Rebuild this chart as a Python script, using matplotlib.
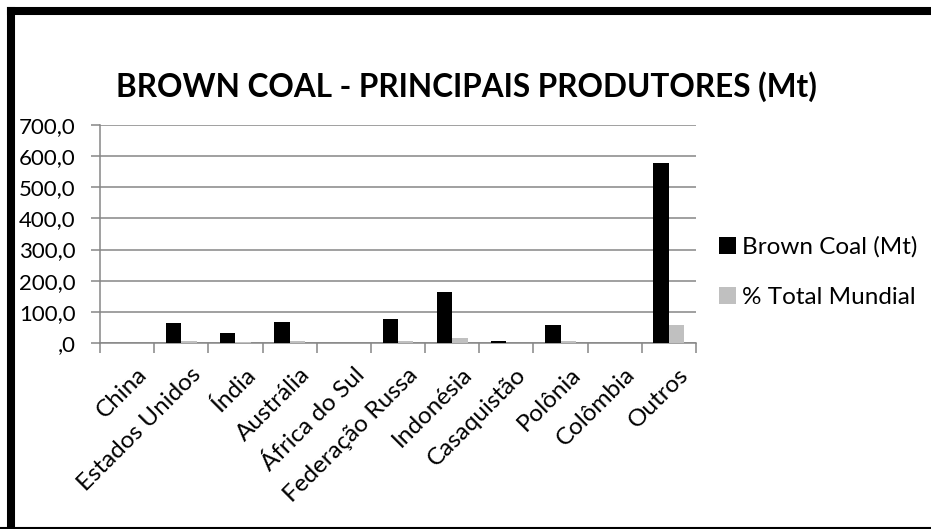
import matplotlib
matplotlib.use('Agg')
import matplotlib.pyplot as plt
import numpy as np
from matplotlib.lines import Line2D

# ── Data ──────────────────────────────────────────────────────────────────────
categories = ['China', 'Estados Unidos', 'Índia', 'Austrália', 'África do Sul',
              'Federação Russa', 'Indonésia', 'Casaquistão', 'Polônia',
              'Colômbia', 'Outros']
brown_coal = [0, 65, 31, 67, 0, 76, 163, 6, 57, 0, 578]
pct_total = [0, 6.5, 3.0, 6.5, 0, 7.5, 16.0, 0.6, 5.5, 0, 56.5]
yticks = [0, 100, 200, 300, 400, 500, 600, 700]

plt.rcParams['font.family'] = ['Lato', 'DejaVu Sans']

W, H = 931, 529
fig = plt.figure(figsize=(W / 100, H / 100), dpi=100)
ax = fig.add_axes([100 / W, 1 - 343 / H, 596 / W, 218 / H])

x = np.arange(len(categories))
bw = 0.285
ax.bar(x - bw / 2, brown_coal, bw, color='black', label='Brown Coal (Mt)', zorder=3)
ax.bar(x + bw / 2, pct_total, bw, color='#c0c0c0', label='% Total Mundial', zorder=3)

ax.set_xlim(-0.5, len(categories) - 0.5)
ax.set_ylim(0, 700)
ax.set_yticks(yticks)
ylabels = [f'{v:.1f}'.replace('.', ',') for v in yticks]
ylabels[0] = ',0'
ax.set_yticklabels(ylabels, fontsize=16)
ax.grid(axis='y', color='#868686', lw=1.1, zorder=0)

# category ticks between groups
ax.set_xticks(np.arange(len(categories) + 1) - 0.5)
ax.set_xticklabels([])
ax.tick_params(axis='x', length=7, color='#868686', width=1.1)
ax.tick_params(axis='y', length=6.5, color='#868686', width=1.1, pad=11)
for i, lab in enumerate(categories):
    ax.annotate(lab, (i + 0.17, 0), xycoords=('data', 'axes fraction'),
                xytext=(0, -15), textcoords='offset points',
                ha='right', va='top', rotation=45, rotation_mode='anchor',
                fontsize=17.5)

for s in ['top', 'right']:
    ax.spines[s].set_visible(False)
for s in ['left', 'bottom']:
    ax.spines[s].set_color('#868686')
    ax.spines[s].set_linewidth(1.1)

fig.text(466 / W, 1 - 87 / H, 'BROWN COAL - PRINCIPAIS PRODUTORES (Mt)',
         ha='center', va='center', fontsize=22.7, fontweight='bold')

ax.legend(loc='center left', bbox_to_anchor=(697 / W, 1 - 272 / H),
          bbox_transform=fig.transFigure, frameon=False, fontsize=17.5,
          handlelength=0.7, handleheight=0.7, handletextpad=0.25,
          labelspacing=1.2)

# chart border (black frame)
fig.add_artist(Line2D([11 / W, 11 / W], [0, 1 - 11 / H], color='black',
                      lw=5.8, transform=fig.transFigure, solid_capstyle='projecting'))
fig.add_artist(Line2D([11 / W, 1], [1 - 11 / H, 1 - 11 / H], color='black',
                      lw=5.8, transform=fig.transFigure, solid_capstyle='projecting'))
fig.add_artist(Line2D([0, 1], [1.5 / H, 1.5 / H], color='black',
                      lw=1.5, transform=fig.transFigure))

fig.savefig('out.png', dpi=100)
